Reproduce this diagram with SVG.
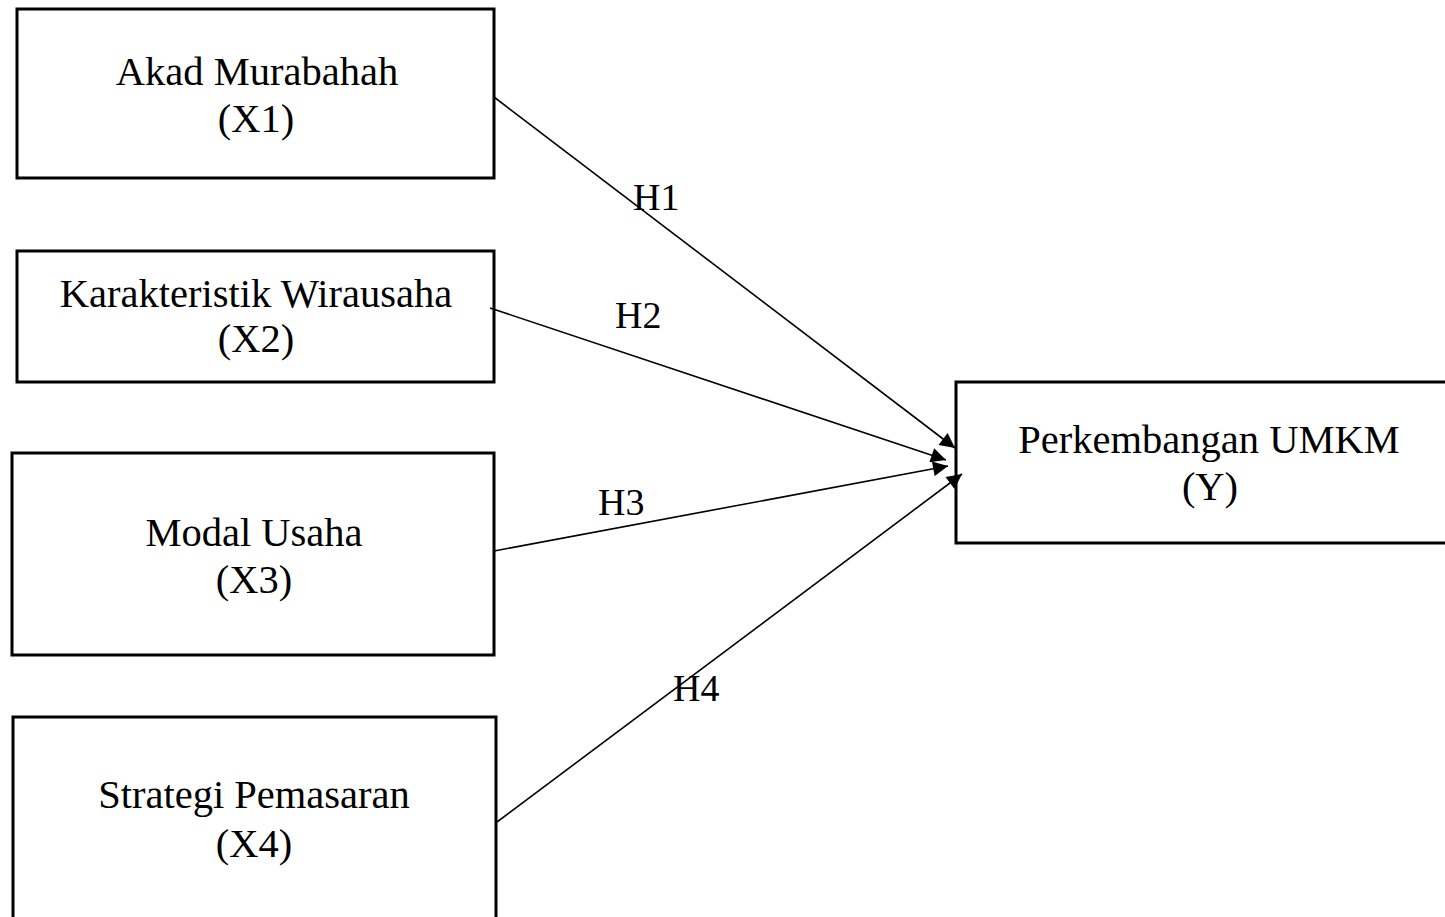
<svg xmlns="http://www.w3.org/2000/svg" width="1445" height="917" viewBox="0 0 1445 917">
<style>
.box{fill:#fff;stroke:#000;stroke-width:3}
.t{font-family:"Liberation Serif","Times New Roman",serif;font-size:40.5px;fill:#000;text-anchor:middle}
.lbl{font-family:"Liberation Serif","Times New Roman",serif;font-size:38px;fill:#000}
.c{stroke:#000;stroke-width:1.6;fill:none;marker-end:url(#ah)}
</style>
<defs>
<marker id="ah" viewBox="0 0 10 10" refX="10" refY="5" markerWidth="18" markerHeight="15" markerUnits="userSpaceOnUse" orient="auto">
<path d="M0,0 L10,5 L0,10 z" fill="#000"/>
</marker>
</defs>
<rect width="1445" height="917" fill="#fff"/>
<g id="x1"><rect class="box" x="17" y="9" width="477" height="169"/><text class="t" x="257" y="85">Akad Murabahah</text><text class="t" x="256" y="132">(X1)</text></g>
<g id="x2"><rect class="box" x="17" y="251" width="477" height="131"/><text class="t" x="256" y="307">Karakteristik Wirausaha</text><text class="t" x="256" y="352">(X2)</text></g>
<g id="x3"><rect class="box" x="12" y="453" width="482" height="202"/><text class="t" x="254" y="546">Modal Usaha</text><text class="t" x="254" y="593">(X3)</text></g>
<g id="x4"><rect class="box" x="13" y="717" width="483" height="220"/><text class="t" x="254" y="808">Strategi Pemasaran</text><text class="t" x="254" y="857">(X4)</text></g>
<g id="y"><rect class="box" x="956" y="382" width="510" height="161"/><text class="t" x="1209" y="453">Perkembangan UMKM</text><text class="t" x="1210" y="500">(Y)</text></g>
<g id="connectors">
<line class="c" x1="494" y1="97" x2="955" y2="448"/>
<line class="c" x1="490" y1="308" x2="946" y2="460"/>
<line class="c" x1="494" y1="551" x2="948" y2="466"/>
<line class="c" x1="497" y1="822" x2="962" y2="474"/>
</g>
<g id="labels">
<text class="lbl" x="633" y="210">H1</text>
<text class="lbl" x="615" y="328">H2</text>
<text class="lbl" x="598" y="515">H3</text>
<text class="lbl" x="673" y="701">H4</text>
</g>
</svg>
